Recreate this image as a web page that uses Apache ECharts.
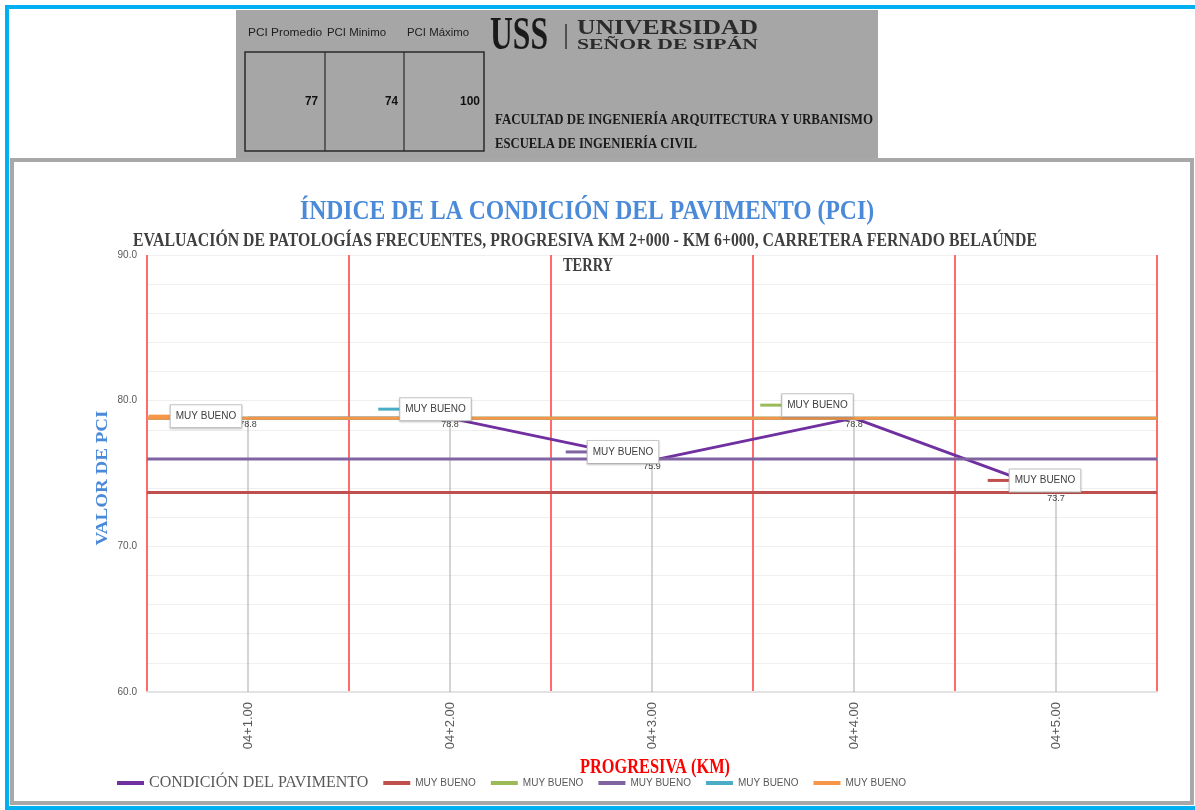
<!DOCTYPE html>
<html>
<head>
<meta charset="utf-8">
<title>Índice de la condición del pavimento (PCI)</title>
<script src="https://cdn.jsdelivr.net/npm/echarts@6/dist/echarts.min.js"></script>
<style>
  html, body { margin: 0; padding: 0; background: #ffffff; }
  #chart { width: 1195px; height: 810px; }
</style>
</head>
<body>
<div id="chart"></div>
<script>
// ---- datos ----
const categories = ['04+1.00', '04+2.00', '04+3.00', '04+4.00', '04+5.00'];
const condicion = [78.8, 78.8, 75.9, 78.8, 73.7];
const muyBuenoRojo = [73.7, 73.7, 73.7, 73.7, 73.7];
const muyBuenoVerde = [78.8, 78.8, 78.8, 78.8, 78.8];
const muyBuenoMorado = [76.0, 76.0, 76.0, 76.0, 76.0];
const muyBuenoCeleste = [78.8, 78.8, 78.8, 78.8, 78.8];
const muyBuenoNaranja = [78.8, 78.8, 78.8, 78.8, 78.8];
const yMin = 60, yMax = 90, yStep = 2, yLabelStep = 10;
const statNames = ['PCI Promedio', 'PCI Minimo', 'PCI Máximo'];
const statValues = [77, 74, 100];
const classLabel = 'MUY BUENO';

// ---- textos ----
const titleText = 'ÍNDICE DE LA CONDICIÓN DEL PAVIMENTO (PCI)';
const subtitleLine1 = 'EVALUACIÓN DE PATOLOGÍAS FRECUENTES, PROGRESIVA KM 2+000 - KM 6+000, CARRETERA FERNADO BELAÚNDE';
const subtitleLine2 = 'TERRY';
const yName = 'VALOR DE PCI';
const xName = 'PROGRESIVA (KM)';

// measure helper: horizontal scale so a string fills a given width
const measureCtx = document.createElement('canvas').getContext('2d');
function fit(text, font, width) {
  measureCtx.font = font;
  return width / measureCtx.measureText(text).width;
}
function txt(text, font, fill, x, y, width, align, rotation) {
  return {
    type: 'text', silent: true, x: x, y: y, z: 20,
    rotation: rotation || 0,
    scaleX: fit(text, font, width),
    style: { text: text, font: font, fill: fill, x: 0, y: 0,
             textAlign: align || 'left', textVerticalAlign: 'middle' }
  };
}

const SERIF = "'Liberation Serif', 'DejaVu Serif', serif";
const SANS = "'Liberation Sans', Arial, sans-serif";

// class-band series (each one carries a boxed "MUY BUENO" tag with its colour key)
function band(id, data, color, anchor, offset) {
  return {
    name: classLabel + '#' + id,
    type: 'line',
    xAxisIndex: 1,
    data: data,
    symbol: 'none',
    color: color,
    itemStyle: { color: color },
    lineStyle: { color: color, width: 3 },
    z: 3,
    markPoint: {
      z: 12,
      symbol: 'rect',
      symbolSize: 1,
      itemStyle: { color: 'rgba(0,0,0,0)' },
      data: [{ coord: [categories[anchor], data[anchor]] }],
      label: {
        show: true,
        position: 'inside',
        offset: offset,
        formatter: '{k| }{t|' + classLabel + '}',
        rich: {
          k: { width: 22, height: 3, lineHeight: 3, fontSize: 1, backgroundColor: color },
          t: {
            fontFamily: SANS, fontSize: 10, color: '#404040',
            backgroundColor: '#ffffff', borderColor: '#c9c9c9', borderWidth: 1,
            padding: [6, 5, 6, 5],
            shadowColor: 'rgba(0,0,0,0.18)', shadowBlur: 2, shadowOffsetY: 1
          }
        }
      }
    }
  };
}

const graphics = [
  // marcos
  { type: 'rect', silent: true, z: 0, shape: { x: 7, y: 7, width: 1200, height: 801 },
    style: { fill: null, stroke: '#00b0f0', lineWidth: 4 } },
  { type: 'rect', silent: true, z: 0, shape: { x: 12, y: 160, width: 1180, height: 643 },
    style: { fill: null, stroke: '#a8a8a8', lineWidth: 4 } },
  // encabezado
  { type: 'rect', silent: true, z: 1, shape: { x: 236, y: 10, width: 642, height: 148 },
    style: { fill: '#a6a6a6' } },
  { type: 'rect', silent: true, z: 2, shape: { x: 245, y: 52, width: 239, height: 99 },
    style: { fill: null, stroke: '#2a2a2a', lineWidth: 1.5 } },
  { type: 'line', silent: true, z: 2, shape: { x1: 325, y1: 52, x2: 325, y2: 151 },
    style: { stroke: '#2a2a2a', lineWidth: 1.2 } },
  { type: 'line', silent: true, z: 2, shape: { x1: 404, y1: 52, x2: 404, y2: 151 },
    style: { stroke: '#2a2a2a', lineWidth: 1.2 } },
  { type: 'line', silent: true, z: 2, shape: { x1: 566, y1: 24, x2: 566, y2: 49 },
    style: { stroke: '#333333', lineWidth: 1.5 } },
  txt(statNames[0], '11px ' + SANS, '#1e1e1e', 248, 33, 74),
  txt(statNames[1], '11px ' + SANS, '#1e1e1e', 327, 33, 59),
  txt(statNames[2], '11px ' + SANS, '#1e1e1e', 407, 33, 62),
  txt(String(statValues[0]), 'bold 13px ' + SANS, '#111111', 318, 101, 13, 'right'),
  txt(String(statValues[1]), 'bold 13px ' + SANS, '#111111', 398, 101, 13, 'right'),
  txt(String(statValues[2]), 'bold 13px ' + SANS, '#111111', 480, 101, 20, 'right'),
  txt('USS', 'bold 46px ' + SERIF, '#1a1a1a', 490, 37, 58),
  txt('UNIVERSIDAD', 'bold 20px ' + SERIF, '#2b2b2b', 577, 29, 181),
  txt('SEÑOR DE SIPÁN', 'bold 15px ' + SERIF, '#2b2b2b', 577, 45, 181),
  txt('FACULTAD DE INGENIERÍA ARQUITECTURA Y URBANISMO', 'bold 15px ' + SERIF, '#1a1a1a', 495, 120, 378),
  txt('ESCUELA DE INGENIERÍA CIVIL', 'bold 15px ' + SERIF, '#1a1a1a', 495, 144, 202),
  // títulos
  txt(titleText, 'bold 28px ' + SERIF, '#4a8ad8', 587, 212, 574, 'center'),
  txt(subtitleLine1, 'bold 19px ' + SERIF, '#3f3f3f', 585, 241, 904, 'center'),
  txt(subtitleLine2, 'bold 19px ' + SERIF, '#3f3f3f', 588, 266, 50, 'center'),
  // nombres de ejes
  txt(yName, 'bold 17px ' + SERIF, '#4a8ad8', 103, 478, 135, 'center', Math.PI / 2),
  txt(xName, 'bold 22px ' + SERIF, '#ff0000', 655, 767, 150, 'center')
];

const chart = echarts.init(document.getElementById('chart'), null, { renderer: 'canvas' });

const option = {
  animation: false,
  backgroundColor: '#ffffff',
  graphic: graphics,
  grid: { left: 147, right: 38, top: 255, bottom: 118, containLabel: false },
  xAxis: [
    {
      type: 'category',
      data: categories,
      boundaryGap: true,
      axisLine: { show: true, lineStyle: { color: '#e3e3e3', width: 2 } },
      axisTick: { show: false },
      axisLabel: { rotate: 90, margin: 10, fontSize: 13, color: '#595959', fontFamily: SANS },
      splitLine: { show: true, lineStyle: { color: '#ff6a6a', width: 2 } }
    },
    {
      type: 'category',
      data: categories,
      boundaryGap: false,
      show: false
    }
  ],
  yAxis: {
    type: 'value',
    min: yMin, max: yMax, interval: yStep,
    axisLine: { show: false },
    axisTick: { show: false },
    axisLabel: {
      margin: 10, fontSize: 10, color: '#595959', fontFamily: SANS,
      formatter: function (v) { return v % yLabelStep === 0 ? v.toFixed(1) : ''; }
    },
    splitLine: { lineStyle: { color: '#efefef', width: 1 } }
  },
  legend: {
    left: 112, top: 770,
    itemWidth: 27, itemHeight: 4, itemGap: 15,
    icon: 'rect',
    formatter: function (name) { return name.split('#')[0]; },
    data: [
      { name: 'CONDICIÓN DEL PAVIMENTO', textStyle: { fontFamily: SERIF, fontSize: 16, color: '#595959' } },
      { name: classLabel + '#1', textStyle: { fontFamily: SANS, fontSize: 10, color: '#595959' } },
      { name: classLabel + '#2', textStyle: { fontFamily: SANS, fontSize: 10, color: '#595959' } },
      { name: classLabel + '#3', textStyle: { fontFamily: SANS, fontSize: 10, color: '#595959' } },
      { name: classLabel + '#4', textStyle: { fontFamily: SANS, fontSize: 10, color: '#595959' } },
      { name: classLabel + '#5', textStyle: { fontFamily: SANS, fontSize: 10, color: '#595959' } }
    ]
  },
  series: [
    // drop lines from each measurement down to the axis
    {
      name: 'guía', type: 'bar', data: condicion, barWidth: 1, silent: true,
      itemStyle: { color: '#a9a9a9' }, z: 1
    },
    {
      name: 'CONDICIÓN DEL PAVIMENTO',
      type: 'line',
      data: condicion,
      color: '#7030a0',
      itemStyle: { color: '#7030a0' },
      lineStyle: { color: '#7030a0', width: 3 },
      symbol: 'circle', symbolSize: 2,
      z: 2,
      label: {
        show: true, position: 'bottom', distance: 1,
        fontFamily: SANS, fontSize: 9, color: '#404040',
        formatter: function (p) { return p.value.toFixed(1); }
      }
    },
    band(1, muyBuenoRojo, '#c0504d', 4, [-123, -12]),
    band(2, muyBuenoVerde, '#9bbb59', 3, [-98, -13]),
    band(3, muyBuenoMorado, '#8064a2', 2, [-40, -7]),
    band(4, muyBuenoCeleste, '#4bacc6', 1, [25, -9]),
    band(5, muyBuenoNaranja, '#f79646', 0, [48, -2])
  ]
};

chart.setOption(option);
</script>
</body>
</html>
